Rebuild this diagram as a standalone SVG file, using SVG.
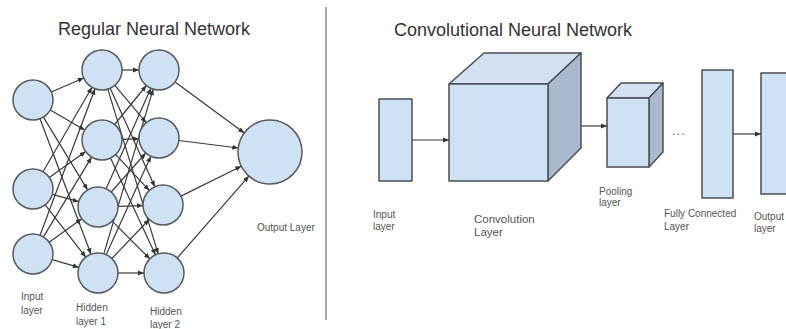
<svg xmlns="http://www.w3.org/2000/svg" width="786" height="329" viewBox="0 0 786 329">
<style>
.bg{fill:#ffffff}
.node{fill:#cfe2f3;stroke:#555b61;stroke-width:1.5}
.front{fill:#cfe2f3;stroke:#4a4f55;stroke-width:1.5;stroke-linejoin:round}
.top{fill:#d2e2f3;stroke:#4a4f55;stroke-width:1.5;stroke-linejoin:round}
.side{fill:#a9bacd;stroke:#4a4f55;stroke-width:1.5;stroke-linejoin:round}
.edge{stroke:#3a3a3a;stroke-width:1.2;fill:none;marker-end:url(#ah)}
.title{font-family:"Liberation Sans",Arial,sans-serif;font-size:18px;fill:#333}
.lbl{font-family:"Liberation Sans",Arial,sans-serif;font-size:10px;fill:#555}
.lblb{font-family:"Liberation Sans",Arial,sans-serif;font-size:11.5px;fill:#555}
</style>
<defs>
<marker id="ah" viewBox="0 0 6 6" refX="6" refY="3" markerWidth="6" markerHeight="6" markerUnits="userSpaceOnUse" orient="auto">
<path d="M0,0.5 L6,3 L0,5.5 Z" fill="#333"/>
</marker>
</defs>
<rect class="bg" x="0" y="0" width="786" height="329"/>

<text class="title" x="58" y="35">Regular Neural Network</text>
<text class="title" x="394" y="36">Convolutional Neural Network</text>
<line x1="326" y1="7" x2="326" y2="320" stroke="#555" stroke-width="1"/>

<g id="connectors">
<line class="edge" x1="51.3" y1="92.0" x2="83.7" y2="78.0"/>
<line class="edge" x1="50.3" y1="110.0" x2="84.7" y2="130.0"/>
<line class="edge" x1="43.4" y1="117.1" x2="87.6" y2="189.9"/>
<line class="edge" x1="40.0" y1="118.7" x2="91.0" y2="254.3"/>
<line class="edge" x1="43.0" y1="171.7" x2="92.0" y2="87.3"/>
<line class="edge" x1="49.3" y1="177.4" x2="85.7" y2="151.6"/>
<line class="edge" x1="52.3" y1="194.3" x2="78.7" y2="201.7"/>
<line class="edge" x1="45.2" y1="204.8" x2="85.8" y2="257.2"/>
<line class="edge" x1="40.0" y1="235.3" x2="95.0" y2="88.7"/>
<line class="edge" x1="43.4" y1="236.9" x2="91.6" y2="157.1"/>
<line class="edge" x1="49.2" y1="242.3" x2="81.8" y2="218.7"/>
<line class="edge" x1="52.2" y1="259.6" x2="78.8" y2="267.4"/>

<line class="edge" x1="122" y1="70" x2="139" y2="70"/>
<line class="edge" x1="114.9" y1="85.3" x2="146.2" y2="122.7"/>
<line class="edge" x1="110.2" y1="88.2" x2="154.8" y2="186.8"/>
<line class="edge" x1="107.8" y1="89.1" x2="158.2" y2="253.9"/>
<line class="edge" x1="114.6" y1="124.5" x2="146.4" y2="85.5"/>
<line class="edge" x1="122" y1="139.3" x2="139" y2="138.7"/>
<line class="edge" x1="115.7" y1="154.6" x2="149.3" y2="190.4"/>
<line class="edge" x1="110.5" y1="158.1" x2="155.5" y2="254.9"/>
<line class="edge" x1="106.1" y1="188.7" x2="150.9" y2="88.3"/>
<line class="edge" x1="111.2" y1="192.0" x2="145.8" y2="153.0"/>
<line class="edge" x1="118" y1="206.4" x2="143" y2="205.6"/>
<line class="edge" x1="112.1" y1="221.1" x2="149.9" y2="258.9"/>
<line class="edge" x1="103.8" y1="253.9" x2="153.2" y2="89.2"/>
<line class="edge" x1="106.2" y1="254.8" x2="150.8" y2="156.2"/>
<line class="edge" x1="111.8" y1="258.5" x2="149.2" y2="219.5"/>
<line class="edge" x1="118" y1="273" x2="144" y2="273"/>

<line class="edge" x1="175.1" y1="81.9" x2="244.3" y2="133.0"/>
<line class="edge" x1="178.8" y1="140.5" x2="238.3" y2="148.0"/>
<line class="edge" x1="180.9" y1="196.1" x2="241.3" y2="166.2"/>
<line class="edge" x1="177.2" y1="258.0" x2="248.9" y2="176.1"/>

<line class="edge" x1="412" y1="140" x2="449" y2="140"/>
<line class="edge" x1="581" y1="126" x2="607" y2="126"/>
<line class="edge" x1="733" y1="134" x2="761" y2="134"/>
</g>

<g id="in1"><circle class="node" cx="33" cy="100" r="20"/></g>
<g id="in2"><circle class="node" cx="33" cy="189" r="20"/></g>
<g id="in3"><circle class="node" cx="33" cy="254" r="20"/></g>
<g id="h1a"><circle class="node" cx="102" cy="70" r="20"/></g>
<g id="h1b"><circle class="node" cx="102" cy="140" r="20"/></g>
<g id="h1c"><circle class="node" cx="98" cy="207" r="20"/></g>
<g id="h1d"><circle class="node" cx="98" cy="273" r="20"/></g>
<g id="h2a"><circle class="node" cx="159" cy="70" r="20"/></g>
<g id="h2b"><circle class="node" cx="159" cy="138" r="20"/></g>
<g id="h2c"><circle class="node" cx="163" cy="205" r="20"/></g>
<g id="h2d"><circle class="node" cx="164" cy="273" r="20"/></g>
<g id="out"><circle class="node" cx="270" cy="152" r="32"/></g>

<g id="nn-labels">
<text class="lbl" x="21" y="300">Input</text>
<text class="lbl" x="21" y="314">layer</text>
<text class="lbl" x="76" y="311">Hidden</text>
<text class="lbl" x="76" y="325">layer 1</text>
<text class="lbl" x="150" y="315">Hidden</text>
<text class="lbl" x="150" y="328">layer 2</text>
<text class="lbl" x="257" y="231">Output Layer</text>
</g>

<g id="cnn-input">
<rect class="front" x="379" y="99" width="33" height="82"/>
<text class="lbl" x="373" y="218">Input</text>
<text class="lbl" x="373" y="230">layer</text>
</g>

<g id="cnn-conv">
<polygon class="top" points="449,84 484,53 581,53 548,84"/>
<polygon class="side" points="548,84 581,53 581,148 548,181"/>
<rect class="front" x="449" y="84" width="99" height="97"/>
<text class="lblb" x="474" y="223">Convolution</text>
<text class="lblb" x="474" y="236">Layer</text>
</g>

<g id="cnn-pool">
<polygon class="top" points="607,98 621,83 663,83 649,98"/>
<polygon class="side" points="649,98 663,83 663,152 649,167"/>
<rect class="front" x="607" y="98" width="42" height="69"/>
<text class="lbl" x="599" y="195">Pooling</text>
<text class="lbl" x="599" y="206">layer</text>
</g>

<g id="cnn-dots">
<text x="672" y="135" font-family="'Liberation Sans',Arial,sans-serif" font-size="13" letter-spacing="1" fill="#666">...</text>
</g>

<g id="cnn-fc">
<rect class="front" x="702" y="70" width="31" height="128"/>
<text class="lbl" x="664" y="217" font-size="10.5">Fully Connected</text>
<text class="lbl" x="664" y="230" font-size="10.5">Layer</text>
</g>

<g id="cnn-output">
<rect class="front" x="761" y="73" width="40" height="121"/>
<text class="lbl" x="754" y="220">Output</text>
<text class="lbl" x="754" y="232">layer</text>
</g>
</svg>
